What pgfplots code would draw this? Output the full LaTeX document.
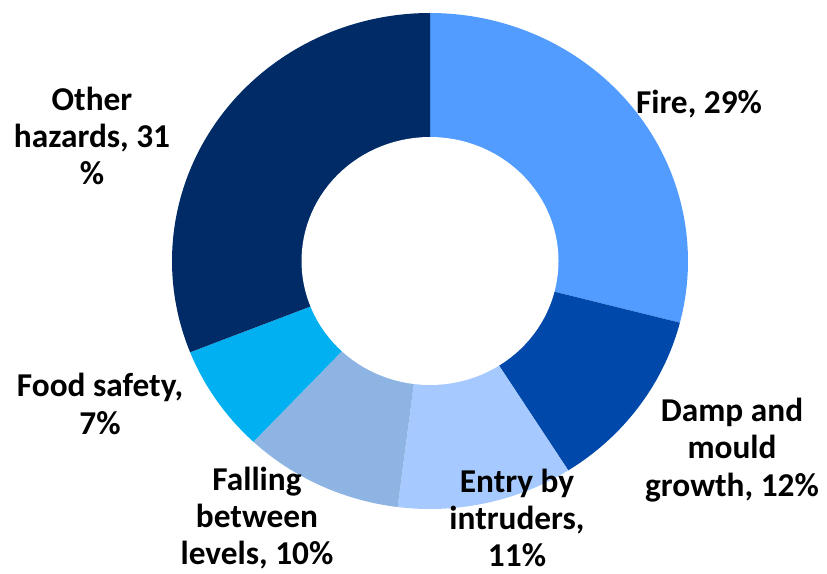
\documentclass[border=0pt]{standalone}
\usepackage{pgfplots}
\pgfplotsset{compat=1.18}
\usepackage{fontspec}
\setmainfont{Carlito}

\definecolor{cFire}{RGB}{83,156,255}
\definecolor{cDamp}{RGB}{0,72,170}
\definecolor{cEntry}{RGB}{166,202,255}
\definecolor{cFall}{RGB}{142,180,227}
\definecolor{cFood}{RGB}{0,176,240}
\definecolor{cOther}{RGB}{0,43,103}

% donut centre and radii (axis units = reference pixels)
\def\cx{430}\def\cy{311}
\def\rx{258}\def\ry{248}
\def\hx{128.5}\def\hy{124}

% #1 = cumulative share before the slice, #2 = share, #3 = colour
\newcommand\slice[3]{%
  \addplot[fill=#3, draw=none, domain={90-3.6*(#1+#2)}:{90-3.6*(#1)}, samples=90, variable=\t]
    ({\cx+\rx*cos(\t)}, {\cy+\ry*sin(\t)}) -- (axis cs:\cx,\cy) -- cycle;
}

\begin{document}
\begin{tikzpicture}[lbl/.style={font=\bfseries\fontsize{25}{28}\selectfont, align=center, text=black}]
\begin{axis}[
  hide axis, scale only axis,
  width=620.25pt, height=429pt,
  xmin=0, xmax=827, ymin=0, ymax=572,
  clip=false,
]
\path (rel axis cs:0,0) rectangle (rel axis cs:1,1);
\slice{0}{29}{cFire}
\slice{29}{12}{cDamp}
\slice{41}{11}{cEntry}
\slice{52}{10}{cFall}
\slice{62}{7}{cFood}
\slice{69}{31}{cOther}
% hole
\addplot[fill=white, draw=none, domain=0:360, samples=120, variable=\t]
  ({\cx+\hx*cos(\t)}, {\cy+\hy*sin(\t)}) -- cycle;

\node[lbl] at (axis cs:699,468) {Fire, 29\%};
\node[lbl] at (axis cs:732,122) {Damp and\\mould\\growth, 12\%};
\node[lbl] at (axis cs:517,54) {Entry by\\intruders,\\11\%};
\node[lbl] at (axis cs:257,54) {Falling\\between\\levels, 10\%};
\node[lbl] at (axis cs:100,168) {Food safety,\\7\%};
\node[lbl] at (axis cs:92,436) {Other\\hazards, 31\\\%};
\end{axis}
\end{tikzpicture}
\end{document}
